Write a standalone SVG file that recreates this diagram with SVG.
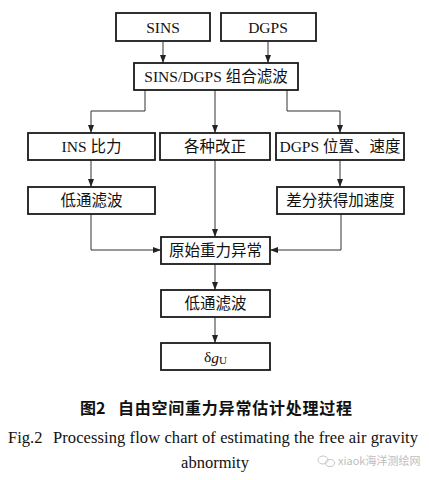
<svg xmlns="http://www.w3.org/2000/svg" width="429" height="480" viewBox="0 0 429 480">
<style>
.box{fill:#fff;stroke:#1a1a1a;stroke-width:1.8}
.t{font-family:"Liberation Serif","Noto Sans CJK SC",serif;font-size:15.5px;fill:#111;text-anchor:middle;dominant-baseline:central}
.c{fill:none;stroke:#333;stroke-width:1}
.cap{font-family:"Noto Sans CJK SC",sans-serif;font-size:16px;font-weight:bold;fill:#111}
.en{font-family:"Liberation Serif",serif;font-size:16.5px;fill:#111}
</style>
<defs>
<marker id="ah" viewBox="0 0 8 8" refX="8" refY="4" markerWidth="8" markerHeight="8" markerUnits="userSpaceOnUse" orient="auto">
<path d="M0,1 L8,4 L0,7 Z" fill="#222"/>
</marker>
</defs>
<rect width="429" height="480" fill="#fff"/>
<g id="connectors">
<line class="c" x1="163" y1="42" x2="163" y2="63" marker-end="url(#ah)"/>
<line class="c" x1="268" y1="42" x2="268" y2="63" marker-end="url(#ah)"/>
<polyline class="c" points="145,90 145,111 91,111 91,133" marker-end="url(#ah)"/>
<line class="c" x1="215" y1="90" x2="215" y2="133" marker-end="url(#ah)"/>
<polyline class="c" points="287,90 287,111 340,111 340,133" marker-end="url(#ah)"/>
<line class="c" x1="91" y1="160" x2="91" y2="187" marker-end="url(#ah)"/>
<line class="c" x1="340" y1="160" x2="340" y2="187" marker-end="url(#ah)"/>
<polyline class="c" points="91,214 91,250 161,250" marker-end="url(#ah)"/>
<line class="c" x1="215" y1="160" x2="215" y2="237" marker-end="url(#ah)"/>
<polyline class="c" points="341,214 341,250 270,250" marker-end="url(#ah)"/>
<line class="c" x1="215" y1="264" x2="215" y2="290" marker-end="url(#ah)"/>
<line class="c" x1="215" y1="317" x2="215" y2="343" marker-end="url(#ah)"/>
</g>
<g id="sins"><rect class="box" x="116" y="13" width="94" height="28"/><text class="t" x="163" y="27">SINS</text></g>
<g id="dgps"><rect class="box" x="221" y="13" width="95" height="28"/><text class="t" x="268" y="27">DGPS</text></g>
<g id="filter"><rect class="box" x="134" y="63" width="164" height="27"/><text class="t" x="216" y="76.5">SINS/DGPS 组合滤波</text></g>
<g id="ins"><rect class="box" x="28" y="133" width="127" height="27"/><text class="t" x="91.5" y="146.5">INS 比力</text></g>
<g id="corr"><rect class="box" x="160" y="133" width="110" height="27"/><text class="t" x="215" y="146.5">各种改正</text></g>
<g id="dgpspv"><rect class="box" x="276" y="133" width="128" height="27"/><text class="t" x="340" y="146.5">DGPS 位置、速度</text></g>
<g id="lpf1"><rect class="box" x="28" y="187" width="127" height="27"/><text class="t" x="91.5" y="200.5">低通滤波</text></g>
<g id="diff"><rect class="box" x="277" y="187" width="127" height="27"/><text class="t" x="340.5" y="200.5">差分获得加速度</text></g>
<g id="raw"><rect class="box" x="161" y="237" width="109" height="27"/><text class="t" x="215.5" y="250.5">原始重力异常</text></g>
<g id="lpf2"><rect class="box" x="161" y="290" width="109" height="27"/><text class="t" x="215.5" y="303.5">低通滤波</text></g>
<g id="dg"><rect class="box" x="161" y="343" width="109" height="27"/><text class="t" x="215.5" y="356.5">δ<tspan font-style="italic">g</tspan><tspan font-size="11" dy="3">U</tspan></text></g>
<text class="cap" x="80" y="414">图2</text>
<text class="cap" x="118" y="414" textLength="234" lengthAdjust="spacing">自由空间重力异常估计处理过程</text>
<text class="en" x="8" y="443">Fig.2</text>
<text class="en" x="53" y="443" textLength="365" lengthAdjust="spacing">Processing flow chart of estimating the free air gravity</text>
<text class="en" x="215" y="468" text-anchor="middle">abnormity</text>
<g id="watermark" opacity="0.55">
<ellipse cx="323" cy="460" rx="5" ry="4" fill="none" stroke="#999" stroke-width="1"/>
<ellipse cx="330" cy="463" rx="4.5" ry="3.5" fill="none" stroke="#999" stroke-width="1"/>
<text x="338" y="465" font-family="'Noto Sans CJK SC',sans-serif" font-size="11" fill="#888">xiaok海洋测绘网</text>
</g>
</svg>
